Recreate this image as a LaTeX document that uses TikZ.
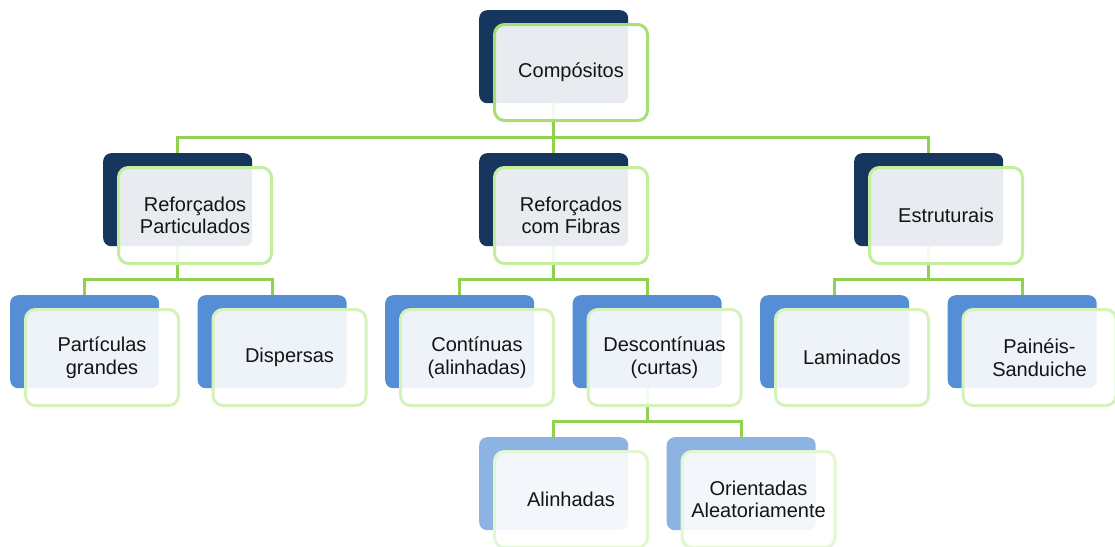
\documentclass[tikz,border=0pt]{standalone}
\usepackage{fontspec}
\setmainfont{Liberation Sans}
\definecolor{navy}{HTML}{17365D}
\definecolor{bluetwo}{HTML}{558ED5}
\definecolor{bluethree}{HTML}{8DB3E2}
\definecolor{conngreen}{HTML}{92D050}
\definecolor{bdzero}{HTML}{A6DE78}
\definecolor{bdone}{HTML}{C5EDA0}
\definecolor{bdtwo}{HTML}{D6F2BC}
\definecolor{bdthree}{HTML}{E2F6D0}
\definecolor{txt}{HTML}{141414}
\tikzset{
  backbox/.style={rectangle, rounded corners=8pt, minimum width=149pt, minimum height=93pt, inner sep=0pt, anchor=north west},
  frontbox/.style={rectangle, rounded corners=10pt, minimum width=153pt, minimum height=96pt, inner sep=0pt, line width=3pt, fill=white, fill opacity=0.9, text opacity=1, text=txt, align=center, font=\fontsize{20}{22.5}\selectfont},
  conn/.style={draw=conngreen, line width=3pt},
}
\newcommand{\unitbox}[6]{%
  \node[backbox, fill=#5] (b#1) at (#2,#3) {};
  \node[frontbox, draw=#6] (f#1) at ([xshift=92pt,yshift=-62.5pt]b#1.north west) {#4};
}
\begin{document}
\begin{tikzpicture}[x=1pt,y=-1pt]
\useasboundingbox (0,0) rectangle (1115,546);
% invisible placeholders to name positions for the connectors
\begin{scope}[opacity=0]
\node[backbox] (b0) at (479,10) {};
\node[backbox] (b1a) at (103,153) {};
\node[backbox] (b1b) at (479,153) {};
\node[backbox] (b1c) at (854,153) {};
\node[backbox] (b2a) at (10,295) {};
\node[backbox] (b2b) at (197.5,295) {};
\node[backbox] (b2c) at (385,295) {};
\node[backbox] (b2d) at (572.5,295) {};
\node[backbox] (b2e) at (760,295) {};
\node[backbox] (b2f) at (947.5,295) {};
\node[backbox] (b3a) at (479,437) {};
\node[backbox] (b3b) at (666.5,437) {};
\end{scope}
% level 0 -> 1
\draw[conn] (b0.south) -- ++(0,34) coordinate (j0);
\draw[conn] (b1a.north) |- (j0) -| (b1c.north);
\draw[conn] (j0) -- (b1b.north);
% level 1 -> 2
\draw[conn] (b1a.south) -- ++(0,33) coordinate (j1a);
\draw[conn] (b2a.north) |- (j1a) -| (b2b.north);
\draw[conn] (b1b.south) -- ++(0,33) coordinate (j1b);
\draw[conn] (b2c.north) |- (j1b) -| (b2d.north);
\draw[conn] (b1c.south) -- ++(0,33) coordinate (j1c);
\draw[conn] (b2e.north) |- (j1c) -| (b2f.north);
% level 2 -> 3
\draw[conn] (b2d.south) -- ++(0,33) coordinate (j2);
\draw[conn] (b3a.north) |- (j2) -| (b3b.north);
% boxes
\unitbox{0}{479}{10}{Compósitos}{navy}{bdzero}
\unitbox{1a}{103}{153}{Reforçados\\Particulados}{navy}{bdone}
\unitbox{1b}{479}{153}{Reforçados\\com Fibras}{navy}{bdone}
\unitbox{1c}{854}{153}{Estruturais}{navy}{bdone}
\unitbox{2a}{10}{295}{Partículas\\grandes}{bluetwo}{bdtwo}
\unitbox{2b}{197.5}{295}{Dispersas}{bluetwo}{bdtwo}
\unitbox{2c}{385}{295}{Contínuas\\(alinhadas)}{bluetwo}{bdtwo}
\unitbox{2d}{572.5}{295}{Descontínuas\\(curtas)}{bluetwo}{bdtwo}
\unitbox{2e}{760}{295}{Laminados}{bluetwo}{bdtwo}
\unitbox{2f}{947.5}{295}{Painéis-\\Sanduiche}{bluetwo}{bdtwo}
\unitbox{3a}{479}{437}{Alinhadas}{bluethree}{bdthree}
\unitbox{3b}{666.5}{437}{Orientadas\\Aleatoriamente}{bluethree}{bdthree}
\end{tikzpicture}
\end{document}
